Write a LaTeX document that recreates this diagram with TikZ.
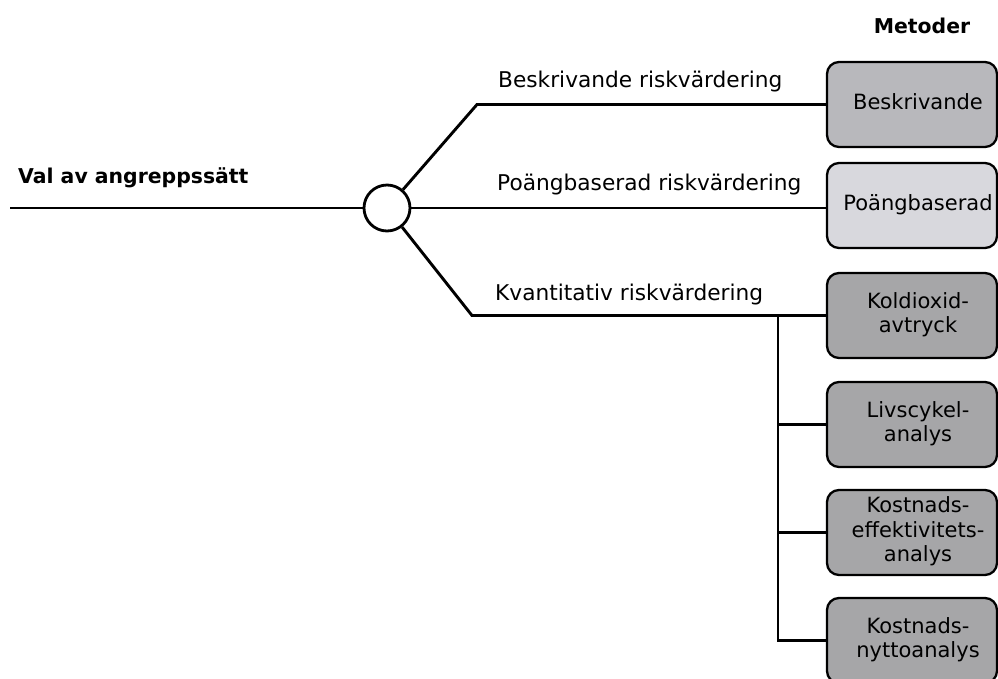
\documentclass[tikz,border=0pt]{standalone}
\usepackage{fontspec}
\setmainfont{DejaVu Sans}
\definecolor{boxA}{RGB}{184,184,188}
\definecolor{boxB}{RGB}{216,216,221}
\definecolor{boxC}{RGB}{166,166,168}
\newcommand{\mtext}[1]{\hspace*{12pt}\begin{tabular}{@{}c@{}}#1\end{tabular}}
\begin{document}
\begin{tikzpicture}[x=1pt,y=-1pt,
  wire/.style={line width=2.9pt, line join=miter},
  methodbox/.style={draw=black, line width=2.3pt, rounded corners=12pt,
    minimum width=170pt, minimum height=85pt, inner sep=0pt,
    font=\fontsize{21}{24.5}\selectfont},
  branchlabel/.style={anchor=base west, inner sep=0pt, font=\fontsize{21.7}{25}\selectfont},
  headlabel/.style={inner sep=0pt, font=\bfseries\fontsize{20.4}{24}\selectfont},
]
\useasboundingbox (0,0) rectangle (998,678);
\clip (0,0) rectangle (998,678);

% method boxes
\node[methodbox, fill=boxA] (m1) at (912,104.5) {\mtext{Beskrivande}};
\node[methodbox, fill=boxB] (m2) at (912,205.5) {\mtext{Poängbaserad}};
\node[methodbox, fill=boxC] (m3) at (912,315.5) {\mtext{Koldioxid-\\avtryck}};
\node[methodbox, fill=boxC] (m4) at (912,424.5) {\mtext{Livscykel-\\analys}};
\node[methodbox, fill=boxC] (m5) at (912,532.5) {\mtext{Kostnads-\\effektivitets-\\analys}};
\node[methodbox, fill=boxC] (m6) at (912,640.5) {\mtext{Kostnads-\\nyttoanalys}};

% headings
\node[headlabel, anchor=base] (meth) at (922,33) {Metoder};
\node[headlabel, anchor=base west] (title) at (18,183) {Val av angreppssätt};

% hub
\node[draw, circle, line width=2.8pt, minimum size=46pt, inner sep=0pt] (hub) at (387,208) {};
\coordinate (start) at (10,208);
\coordinate (c1) at (477,104.5);
\coordinate (c3) at (472,315.5);
\coordinate (trunk) at (778,315.5);

% connectors
\draw[wire] (start) -- (hub);
\draw[wire] (hub) -- (c1) -- (m1.west);
\draw[wire] (hub.east) -- (m2.west |- hub.east);
\draw[wire] (hub) -- (c3) -- (m3.west);
\draw[wire] (trunk) |- (m6.west);
\draw[wire] (trunk |- m4.west) -- (m4.west);
\draw[wire] (trunk |- m5.west) -- (m5.west);

% branch labels
\node[branchlabel] (l1) at (498,87) {Beskrivande riskvärdering};
\node[branchlabel] (l2) at (497,190) {Poängbaserad riskvärdering};
\node[branchlabel] (l3) at (495,300) {Kvantitativ riskvärdering};
\end{tikzpicture}
\end{document}
